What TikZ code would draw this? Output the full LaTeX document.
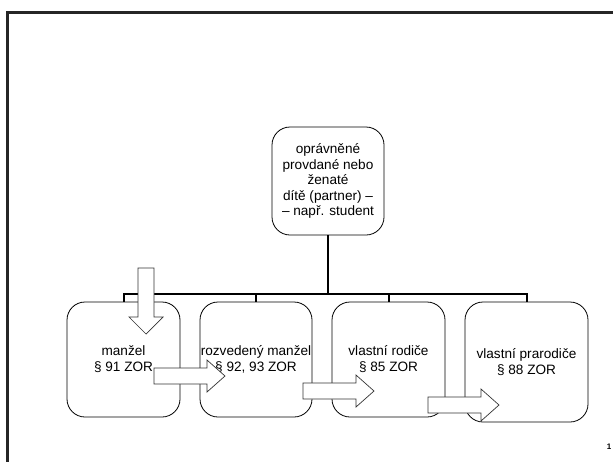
\documentclass[tikz,border=0pt]{standalone}
\usepackage{fontspec}
\setmainfont{Liberation Sans}
\begin{document}
\begin{tikzpicture}[x=1pt,y=-1pt]
  \tikzstyle{box}=[draw,rounded corners=18pt,line width=0.8pt,inner sep=0pt,align=center,
    font=\fontsize{13.6}{16}\selectfont]
  \tikzstyle{bar}=[line width=2pt]
  \tikzstyle{barrow}=[draw=black!80,fill=white,line width=0.7pt]
  \useasboundingbox (0,0) rectangle (613,461);
  \draw[black!85,line width=2.2pt] (7.5,470) |- (625,12.5);

  \node[box,minimum width=112pt,minimum height=108pt,font=\fontsize{13.6}{15.5}\selectfont] (T) at (328,181)
    {oprávněné\\provdané nebo\\ženaté\\dítě (partner) --\\-- např. student};

  \foreach \name/\x/\w/\h/\y/\text in {B-1/123.5/113/115/359.5/{manžel\\\S\ 91 ZOR},
      B-2/256/112/115/359.5/{rozvedený manžel\\\S\ 92, 93 ZOR},
      B-3/388.5/113/115/359.5/{vlastní rodiče\\\S\ 85 ZOR},
      B-4/526.5/123/120/362/{vlastní prarodiče\\\S\ 88 ZOR}}
    \node[box,minimum width=\w pt,minimum height=\h pt] (\name) at (\x,\y) {\text};

  \foreach \i in {1,...,4}
    { \draw[bar] (T.south) -- ++(0,59) -| (B-\i.north); }

  % block arrows
  \draw[barrow] (138,268) -- (154,268) -- (154,317) -- (163,317) -- (146,334)
    -- (129,317) -- (138,317) -- cycle;
  \foreach \x/\y in {154/376, 303/391, 428/405}
    \draw[barrow,shift={(\x pt,-\y pt)}] (0,-8) -- (53,-8) -- (53,-16) -- (71,0)
      -- (53,16) -- (53,8) -- (0,8) -- cycle;

  \node[font=\bfseries\fontsize{8}{8}\selectfont] (pg) at (609,447) {1};
\end{tikzpicture}
\end{document}
